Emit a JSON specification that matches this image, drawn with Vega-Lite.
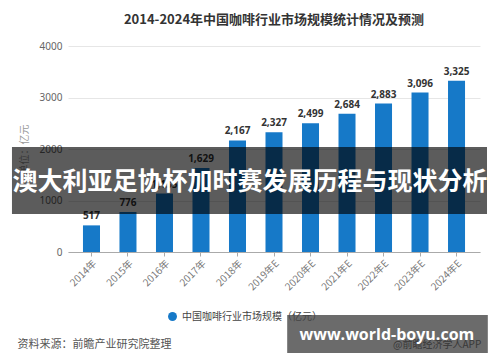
{
  "$schema": "https://vega.github.io/schema/vega-lite/v6.json",
  "width": 412,
  "height": 206,
  "autosize": "none",
  "padding": {"left": 68, "top": 46, "right": 20, "bottom": 110},
  "background": "white",
  "config": {"view": {"stroke": null}, "font": "Noto Sans CJK SC"},
  "title": {
    "text": "2014-2024年中国咖啡行业市场规模统计情况及预测",
    "fontSize": 13,
    "fontWeight": "bold",
    "color": "#333333",
    "offset": 14,
    "anchor": "middle"
  },
  "data": {
    "values": [
      {"year": "2014年", "value": 517},
      {"year": "2015年", "value": 776},
      {"year": "2016年", "value": 1135},
      {"year": "2017年", "value": 1629},
      {"year": "2018年", "value": 2167},
      {"year": "2019年E", "value": 2327},
      {"year": "2020年E", "value": 2499},
      {"year": "2021年E", "value": 2684},
      {"year": "2022年E", "value": 2883},
      {"year": "2023年E", "value": 3096},
      {"year": "2024年E", "value": 3325}
    ]
  },
  "layer": [
    {
      "encoding": {
        "x": {
          "field": "year",
          "type": "nominal",
          "sort": null,
          "scale": {"paddingInner": 0.534, "paddingOuter": 0.41},
          "axis": {
            "title": "资料来源：前瞻产业研究院整理",
            "titleFontSize": 11,
            "titleColor": "#555555",
            "titleFontWeight": "normal",
            "titleAnchor": "start",
            "titleAlign": "left",
            "titleBaseline": "middle",
            "titleX": -51,
            "titleY": 92,
            "labelAngle": -45,
            "labelFontSize": 10,
            "labelColor": "#777777",
            "domainColor": "#aaaaaa",
            "tickColor": "#aaaaaa",
            "tickSize": 4,
            "labelPadding": 2
          }
        },
        "y": {
          "field": "value",
          "type": "quantitative",
          "scale": {"domain": [0, 4000]},
          "axis": {
            "values": [0, 1000, 2000, 3000, 4000],
            "format": "d",
            "title": "单位：亿元",
            "titleColor": "#999999",
            "titleFontSize": 10,
            "titleFontWeight": "normal",
            "titlePadding": 10,
            "labelColor": "#666666",
            "labelFontSize": 10,
            "labelFont": "Noto Sans",
            "labelPadding": 6,
            "ticks": false,
            "domain": false,
            "gridColor": "#e6e6e6"
          }
        }
      },
      "layer": [
        {
          "mark": {"type": "bar"},
          "encoding": {
            "color": {
              "datum": "中国咖啡行业市场规模（亿元）",
              "scale": {"range": ["#1679c8"]},
              "legend": {
                "title": null,
                "orient": "none",
                "legendX": 99,
                "legendY": 265,
                "zindex": 2,
                "direction": "horizontal",
                "symbolType": "circle",
                "symbolSize": 80,
                "labelFontSize": 10,
                "labelColor": "#444444"
              }
            }
          }
        },
        {
          "mark": {
            "type": "text",
            "baseline": "alphabetic",
            "dy": -6,
            "fontSize": 10,
            "fontWeight": "bold",
            "font": "Open Sans",
            "color": "#333333"
          },
          "encoding": {"text": {"field": "value", "format": ","}}
        }
      ]
    },
    {
      "data": {"values": [{}]},
      "layer": [
        {
          "mark": {"type": "text", "fontSize": 10, "color": "#888888", "align": "center", "baseline": "middle"},
          "encoding": {
            "x": {"datum": 0.896, "type": "quantitative", "scale": {"domain": [0, 1]}, "axis": null},
            "y": {"datum": -1806, "type": "quantitative", "scale": {"domain": [0, 4000]}},
            "text": {"value": "@前瞻经济学人APP"}
          }
        },
        {
          "mark": {"type": "rect", "color": "black", "opacity": 0.64},
          "encoding": {
            "x": {"datum": -0.136, "type": "quantitative", "scale": {"domain": [0, 1]}, "axis": null},
            "x2": {"datum": 1.017},
            "y": {"datum": 2039, "type": "quantitative", "scale": {"domain": [0, 4000]}},
            "y2": {"datum": 738}
          }
        },
        {
          "mark": {"type": "text", "fontSize": 25, "fontWeight": "bold", "color": "white", "align": "center", "baseline": "middle"},
          "encoding": {
            "x": {"datum": 0.442, "type": "quantitative", "scale": {"domain": [0, 1]}, "axis": null},
            "y": {"datum": 1359, "type": "quantitative", "scale": {"domain": [0, 4000]}},
            "text": {"value": "澳大利亚足协杯加时赛发展历程与现状分析"}
          }
        },
        {
          "mark": {"type": "rect", "color": "black", "opacity": 0.58},
          "encoding": {
            "x": {"datum": 0.532, "type": "quantitative", "scale": {"domain": [0, 1]}, "axis": null},
            "x2": {"datum": 1.019},
            "y": {"datum": -1223, "type": "quantitative", "scale": {"domain": [0, 4000]}},
            "y2": {"datum": -1961}
          }
        },
        {
          "mark": {"type": "text", "fontSize": 16, "fontWeight": "bold", "font": "Open Sans", "color": "white", "align": "center", "baseline": "middle"},
          "encoding": {
            "x": {"datum": 0.774, "type": "quantitative", "scale": {"domain": [0, 1]}, "axis": null},
            "y": {"datum": -1612, "type": "quantitative", "scale": {"domain": [0, 4000]}},
            "text": {"value": "www.world-boyu.com"}
          }
        }
      ]
    }
  ],
  "resolve": {"scale": {"x": "independent"}}
}
